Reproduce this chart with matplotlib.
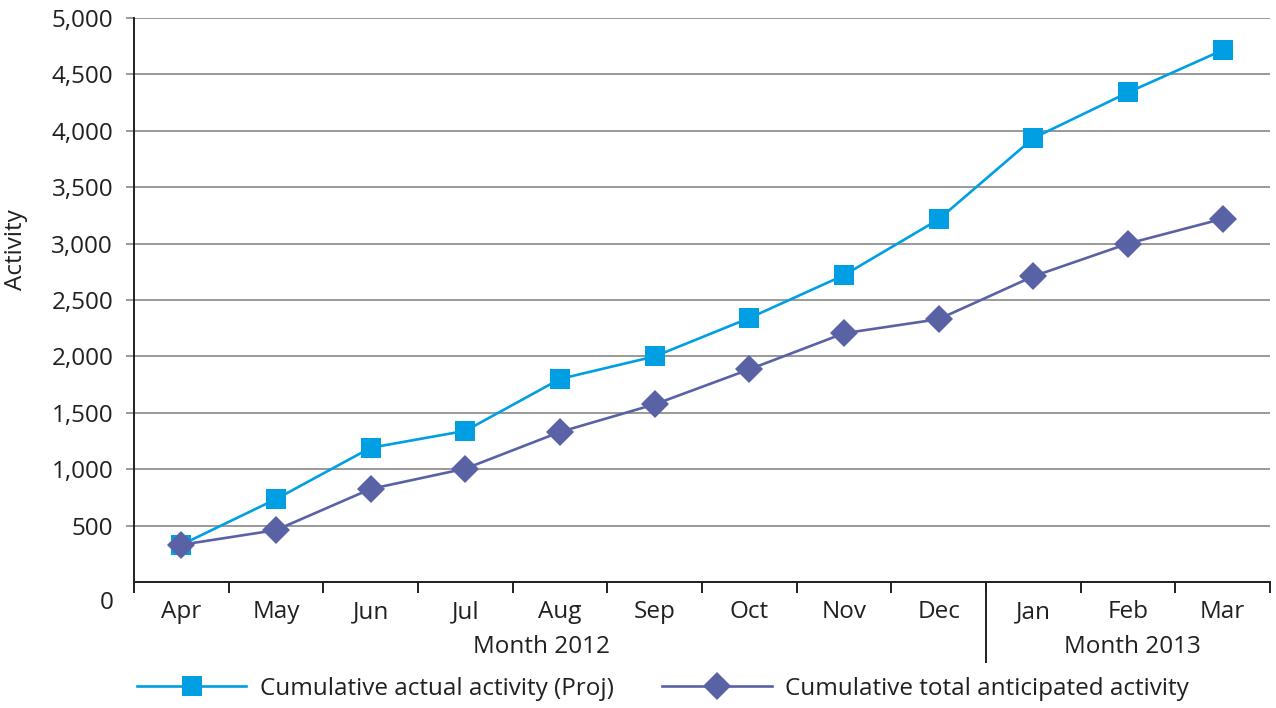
import numpy as np
import matplotlib
matplotlib.use("Agg")
import matplotlib.pyplot as plt
from matplotlib.transforms import ScaledTranslation

plt.rcParams['font.family'] = ['Open Sans', 'DejaVu Sans']

# Monthly cumulative figures, Apr 2012 - Mar 2013
months = ['Apr', 'May', 'Jun', 'Jul', 'Aug', 'Sep', 'Oct', 'Nov', 'Dec', 'Jan', 'Feb', 'Mar']
actual = [330, 735, 1190, 1340, 1800, 2000, 2340, 2720, 3215, 3935, 4340, 4715]
anticipated = [330, 460, 825, 1005, 1330, 1575, 1885, 2205, 2330, 2710, 3000, 3220]
yticks = [0, 500, 1000, 1500, 2000, 2500, 3000, 3500, 4000, 4500, 5000]
year_groups = [('Month 2012', 3.8), ('Month 2013', 10.05)]

text_col = '#231f20'
fs = 17.5

fig = plt.figure(figsize=(12.76, 7.08), dpi=100)
ax = fig.add_axes([134 / 1276, 1 - 582 / 708, 1136 / 1276, 564 / 708])

x = np.arange(len(months))
l1, = ax.plot(x, actual, color='#009fe3', lw=1.9, marker='s', ms=15,
              markeredgewidth=0, label='Cumulative actual activity (Proj)')
l2, = ax.plot(x, anticipated, color='#5a62a6', lw=1.9, marker='D', ms=14,
              markeredgewidth=0, label='Cumulative total anticipated activity')

ax.set_xlim(-0.5, len(months) - 0.5)
ax.set_ylim(0, 5000)
ax.set_yticks(yticks)
ax.set_yticklabels([f'{v:,}' for v in yticks])
ax.grid(axis='y', color='#999999', lw=1.4)
ax.set_axisbelow(True)

for s in ['top', 'right']:
    ax.spines[s].set_visible(False)
for s in ['left', 'bottom']:
    ax.spines[s].set_color(text_col)
    ax.spines[s].set_linewidth(1.4)

# month labels at the centres, tick marks on category boundaries
ax.set_xticks(x)
ax.set_xticklabels(months)
ax.set_xticks(np.arange(-0.5, len(months)), minor=True)
ax.tick_params(axis='x', which='major', length=0, pad=13, labelsize=fs, labelcolor=text_col)
ax.tick_params(axis='x', which='minor', length=8, width=1.4, color=text_col)
ax.tick_params(axis='y', length=6, width=1.4, color='#999999', pad=9,
               labelsize=fs, labelcolor=text_col)

# the zero label sits below the axis line
zero_lab = ax.get_yticklabels()[0]
zero_lab.set_transform(zero_lab.get_transform() + ScaledTranslation(0, -0.18, fig.dpi_scale_trans))
ax.yaxis.get_major_ticks()[0].tick1line.set_visible(False)

ax.set_ylabel('Activity', fontsize=fs, color=text_col)
ax.yaxis.set_label_coords(-0.093, 0.589)

# year grouping below the month labels
trans = ax.get_xaxis_transform()
for name, xpos in year_groups:
    ax.text(xpos, -0.115, name, transform=trans, ha='center', va='center',
            fontsize=fs, color=text_col)
ax.plot([8.5, 8.5], [0, -0.142], transform=trans, color=text_col, lw=1.4, clip_on=False)

fig.legend(handles=[l1, l2], loc='center left', bbox_to_anchor=(137 / 1276, 1 - 689 / 708),
           ncol=2, frameon=False, fontsize=fs, handlelength=4.5, handletextpad=0.55,
           columnspacing=2.0, borderpad=0, borderaxespad=0, labelcolor=text_col)

fig.savefig('out.png', dpi=100)
